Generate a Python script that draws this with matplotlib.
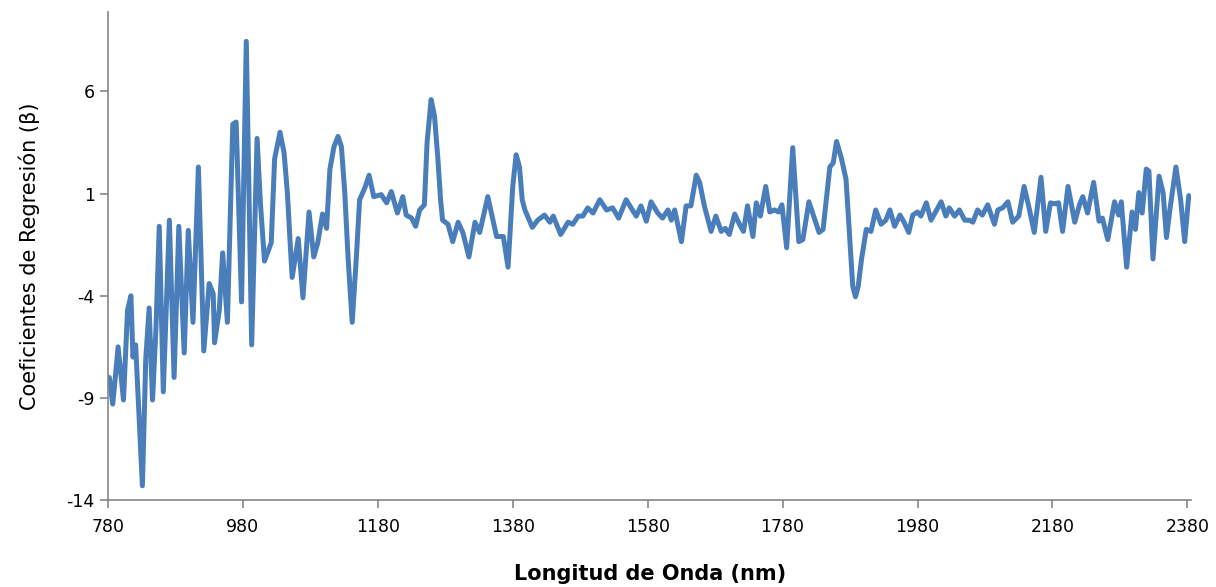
import matplotlib
matplotlib.use("Agg")
import matplotlib.pyplot as plt

plt.rcParams["axes.unicode_minus"] = False

# longitud de onda (nm) y coeficientes
wl = [782, 787, 790, 795, 803, 809, 814, 817, 821, 831, 836, 841, 846, 851, 856,
      862, 871, 878, 885, 893, 899, 906, 914, 922, 930, 936, 938, 945, 950, 957,
      965, 970, 978, 985, 993, 1001, 1006, 1012, 1022, 1027, 1035, 1041, 1046, 1050,
      1053, 1062, 1069,
      1078, 1085, 1091, 1098, 1104, 1109, 1115, 1121, 1126, 1131, 1136, 1142, 1148,
      1153, 1161, 1167, 1174, 1185,
      1193, 1200, 1209, 1217, 1222, 1230, 1236, 1242, 1249, 1253, 1259, 1264, 1269,
      1273, 1276, 1284,
      1291, 1299, 1306, 1315, 1324, 1331, 1343, 1356, 1366, 1373, 1380, 1385, 1390,
      1394, 1398, 1409,
      1417, 1427, 1435, 1440, 1451, 1462, 1469, 1477, 1484, 1491, 1499, 1509, 1519,
      1528, 1537, 1548, 1563, 1570, 1578, 1585, 1595, 1602, 1610, 1615, 1620, 1630,
      1637, 1644, 1652, 1657, 1664, 1674, 1681, 1689, 1695, 1701, 1709, 1716, 1722, 1728,
      1736, 1741, 1747, 1755, 1761, 1768, 1774, 1779, 1786, 1795, 1804, 1810, 1819,
      1826, 1834, 1840, 1850, 1855, 1860, 1867, 1874, 1884, 1888, 1892, 1897, 1904,
      1911, 1918,
      1926, 1933, 1939, 1946, 1954, 1960, 1967, 1973, 1980, 1985, 1993, 2000, 2015,
      2022, 2027, 2035, 2042, 2050, 2057, 2062, 2069, 2076, 2084, 2094, 2099, 2106,
      2114, 2121, 2130, 2138, 2146, 2153, 2163, 2170, 2177, 2183, 2189, 2195, 2203,
      2213, 2220, 2225, 2232, 2241, 2249, 2254, 2262, 2272, 2278, 2282, 2290, 2298,
      2303, 2308, 2313, 2319, 2323, 2329, 2338, 2344, 2349, 2354, 2363, 2370, 2376,
      2382]
beta = [-8.0, -9.3, -8.3, -6.5, -9.1, -4.7, -4.0, -7.0, -6.4, -13.3, -7.1, -4.6, -9.1, -5.7, -0.6,
        -8.7, -0.3, -8.0, -0.6, -6.8, -0.8, -5.3, 2.3, -6.7, -3.4, -3.9, -6.3, -4.7, -1.9, -5.3,
        4.4, 4.5, -4.3, 8.45, -6.4, 3.7, 0.5, -2.3, -1.4, 2.7, 4.0, 3.0, 1.0, -1.4,
        -3.1, -1.2, -4.1,
        0.1, -2.1, -1.4, 0.0, -0.7, 2.2, 3.3, 3.8, 3.3, 1.05, -2.2, -5.3, -2.2,
        0.7, 1.3, 1.9, 0.85, 0.95,
        0.55, 1.1, 0.05, 0.85, -0.05, -0.2, -0.6, 0.2, 0.45, 3.5, 5.6, 4.8, 2.7,
        0.7, -0.3, -0.5,
        -1.35, -0.4, -0.9, -2.1, -0.4, -0.9, 0.85, -1.1, -1.1, -2.6, 1.35, 2.9, 2.3,
        0.7, 0.2, -0.65,
        -0.3, -0.05, -0.4, -0.1, -1.0, -0.4, -0.5, -0.1, -0.1, 0.3, 0.05, 0.7, 0.2,
        0.3, -0.2, 0.7, -0.1, 0.4, -0.35, 0.6, 0.05, -0.2, 0.2, -0.3, 0.2, -1.35,
        0.4, 0.4, 1.9, 1.55, 0.4, -0.85, -0.1, -0.85, -0.7, -1.0, 0.0, -0.5, -0.85, 0.4,
        -1.1, 0.55, -0.1, 1.35, 0.1, 0.2, 0.1, 0.45, -1.65, 3.25, -1.35, -1.25, 0.6,
        -0.1, -0.9, -0.75, 2.3, 2.5, 3.55, 2.75, 1.7, -3.55, -4.05, -3.55, -2.2, -0.75,
        -0.85, 0.2,
        -0.5, -0.3, 0.2, -0.6, -0.05, -0.4, -0.9, -0.05, 0.1, -0.1, 0.55, -0.3, 0.6,
        -0.1, 0.3, -0.1, 0.2, -0.3, -0.3, -0.4, 0.2, -0.05, 0.45, -0.5, 0.2, 0.3,
        0.6, -0.4, -0.1, 1.35, 0.2, -0.9, 1.8, -0.85, 0.55, 0.5, 0.55, -0.85, 1.35,
        -0.4, 0.45, 0.85, 0.05, 1.55, -0.35, -0.2, -1.25, 0.6, -0.05, 0.6, -2.6, 0.1,
        -0.75, 1.05, 0.05, 2.2, 2.1, -2.2, 1.85, 1.05, -1.15, 0.2, 2.3, 0.7, -1.35,
        0.9]

xticks = [780, 980, 1180, 1380, 1580, 1780, 1980, 2180, 2380]
yticks = [-14, -9, -4, 1, 6]

fig = plt.figure(figsize=(12.16, 5.87), dpi=100)
ax = fig.add_axes([0.0888, 0.148, 0.891, 0.832])

ax.plot(wl, beta, color="#4a7ebb", lw=3.6, solid_joinstyle="round", solid_capstyle="round")

ax.set_xlim(780, 2386)
ax.set_ylim(-14, 9.9)
ax.set_xticks(xticks)
ax.set_yticks(yticks)

for s in ["top", "right"]:
    ax.spines[s].set_visible(False)
for s in ["left", "bottom"]:
    ax.spines[s].set_color("#868686")
    ax.spines[s].set_linewidth(1.2)
ax.tick_params(colors="#868686", length=6, width=1.2, labelcolor="black", labelsize=12.5)
ax.tick_params(axis="x", pad=7)

ax.set_xlabel("Longitud de Onda (nm)", fontsize=15, fontweight="bold", labelpad=20)
ax.set_ylabel("Coeficientes de Regresión (β)", fontsize=15, labelpad=19)

fig.savefig("out.png", dpi=100)
